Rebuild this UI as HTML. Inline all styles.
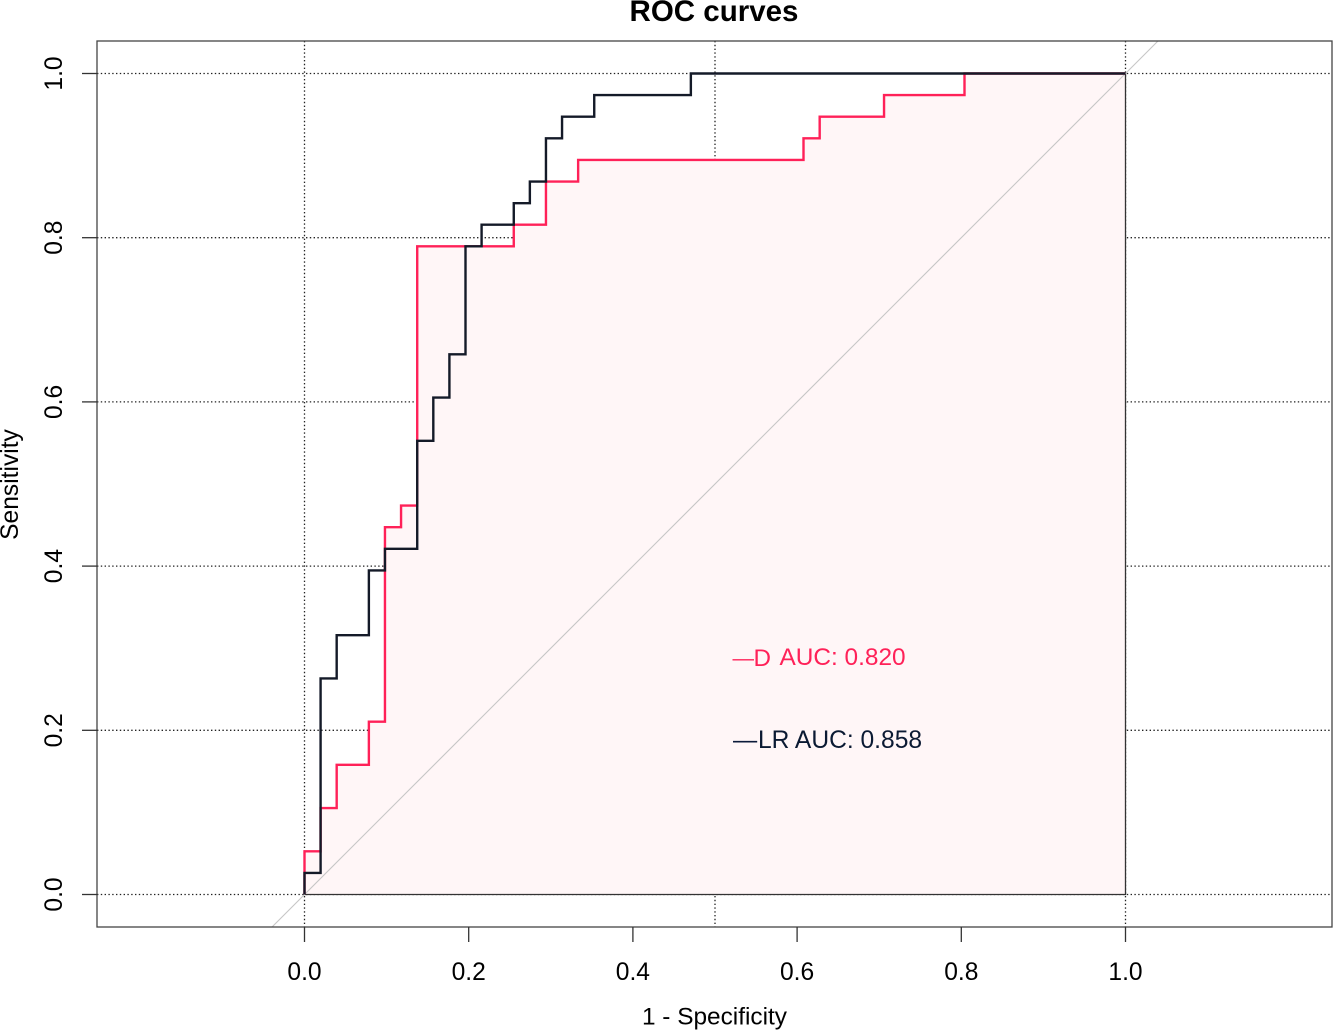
<!DOCTYPE html>
<html>
<head>
<meta charset="utf-8">
<title>ROC curves</title>
<style>
html,body{margin:0;padding:0;background:#fff;width:1333px;height:1030px;overflow:hidden}
svg{display:block;overflow:hidden}
text{font-family:"Liberation Sans",Arial,sans-serif;fill:#000}
</style>
</head>
<body>
<svg id="chart" xmlns="http://www.w3.org/2000/svg" width="1333" height="1030" viewBox="0 0 1333 1030">
  <defs><clipPath id="plot-clip"><rect x="97" y="41" width="1235" height="886"/></clipPath></defs>
  <text x="714" y="21" text-anchor="middle" font-size="29.5" font-weight="bold">ROC curves</text>
  <text x="714.5" y="1024.5" text-anchor="middle" font-size="24.4">1 - Specificity</text>
  <text transform="translate(18,484.5) rotate(-90)" text-anchor="middle" font-size="24.6">Sensitivity</text>
  <g id="grid"></g>
  <g id="fill"></g>
  <g id="diag" clip-path="url(#plot-clip)"></g>
  <g id="curves"></g>
  <g id="axes"></g>
  <g>
    <text x="732.5" y="665" font-size="21.5" style="fill:#ff2158">—</text>
    <text x="753.5" y="666" font-size="24.2" style="fill:#ff2158">D</text>
    <text x="779.5" y="665" font-size="24.4" style="fill:#ff2158">AUC: 0.820</text>
    <text x="733" y="748" font-size="24.2" style="fill:#0b1a3a">—</text>
    <text x="758" y="748" font-size="24.6" style="fill:#0b1a33">LR AUC: 0.858</text>
  </g>
</svg>
<script>
const xTicks = [0, 0.2, 0.4, 0.6, 0.8, 1];
const yTicks = [0, 0.2, 0.4, 0.6, 0.8, 1];
const tickLabels = ['0.0', '0.2', '0.4', '0.6', '0.8', '1.0'];
const vGrid = [0, 0.5, 1];
const hGrid = [0, 0.2, 0.4, 0.6, 0.8, 1];
const chanceLine = [-0.04, 1.04];
const dFpr = [0, 0, 0.0196, 0.0196, 0.0392, 0.0392, 0.0784, 0.0784, 0.098, 0.098, 0.1176, 0.1176, 0.1373, 0.1373, 0.2549, 0.2549, 0.2941, 0.2941, 0.3333, 0.3333, 0.6078, 0.6078, 0.6275, 0.6275, 0.7059, 0.7059, 0.8039, 0.8039, 1];
const dTpr = [0, 0.0526, 0.0526, 0.1053, 0.1053, 0.1579, 0.1579, 0.2105, 0.2105, 0.4474, 0.4474, 0.4737, 0.4737, 0.7895, 0.7895, 0.8158, 0.8158, 0.8684, 0.8684, 0.8947, 0.8947, 0.9211, 0.9211, 0.9474, 0.9474, 0.9737, 0.9737, 1, 1];
const lrFpr = [0, 0, 0.0196, 0.0196, 0.0392, 0.0392, 0.0784, 0.0784, 0.098, 0.098, 0.1373, 0.1373, 0.1569, 0.1569, 0.1765, 0.1765, 0.1961, 0.1961, 0.2157, 0.2157, 0.2549, 0.2549, 0.2745, 0.2745, 0.2941, 0.2941, 0.3137, 0.3137, 0.3529, 0.3529, 0.4706, 0.4706, 1];
const lrTpr = [0, 0.0263, 0.0263, 0.2632, 0.2632, 0.3158, 0.3158, 0.3947, 0.3947, 0.4211, 0.4211, 0.5526, 0.5526, 0.6053, 0.6053, 0.6579, 0.6579, 0.7895, 0.7895, 0.8158, 0.8158, 0.8421, 0.8421, 0.8684, 0.8684, 0.9211, 0.9211, 0.9474, 0.9474, 0.9737, 0.9737, 1, 1];

const NS = 'http://www.w3.org/2000/svg';
const box = { left: 97, right: 1332, top: 41, bottom: 927 };
function sx(v) { return 304.5 + 821 * v; }
function sy(v) { return 894.5 - 821 * v; }
function mk(parent, tag, attrs) {
  const el = document.createElementNS(NS, tag);
  for (const k in attrs) el.setAttribute(k, attrs[k]);
  parent.appendChild(el);
  return el;
}
function pts(xs, ys) {
  return xs.map((x, i) => sx(x).toFixed(2) + ',' + sy(ys[i]).toFixed(2)).join(' ');
}

const grid = document.getElementById('grid');
vGrid.forEach(v => {
  const el = mk(grid, 'line', { x1: sx(v), x2: sx(v), y1: box.top, y2: box.bottom, stroke: '#222', 'stroke-width': 1.3, 'stroke-dasharray': '1.4 2.4' });
  
  
});
hGrid.forEach(v => {
  const el = mk(grid, 'line', { x1: box.left, x2: box.right, y1: sy(v), y2: sy(v), stroke: '#222', 'stroke-width': 1.3, 'stroke-dasharray': '1.4 2.4' });
  
  
});

const fillGroup = document.getElementById('fill');
const poly = mk(fillGroup, 'polygon', { points: pts(dFpr.concat([1, 0]), dTpr.concat([0, 0])), fill: '#fff6f7', stroke: '#333', 'stroke-width': 1.3 });



const diag = mk(document.getElementById('diag'), 'line', { x1: sx(chanceLine[0]), y1: sy(chanceLine[0]), x2: sx(chanceLine[1]), y2: sy(chanceLine[1]), stroke: '#c6c6c6', 'stroke-width': 1.1 });



const axes = document.getElementById('axes');
const frame = mk(axes, 'rect', { x: box.left, y: box.top, width: box.right - box.left, height: box.bottom - box.top, fill: 'none', stroke: '#444', 'stroke-width': 1.3 });


xTicks.forEach((v, i) => {
  const t = mk(axes, 'line', { x1: sx(v), x2: sx(v), y1: box.bottom, y2: 942, stroke: '#333', 'stroke-width': 1.3 });
  
  
  const l = mk(axes, 'text', { x: sx(v), y: 980, 'text-anchor': 'middle', 'font-size': 24.6 });
  l.textContent = tickLabels[i];
  
  
});
yTicks.forEach((v, i) => {
  const t = mk(axes, 'line', { x1: 82, x2: box.left, y1: sy(v), y2: sy(v), stroke: '#333', 'stroke-width': 1.3 });
  
  
  const l = mk(axes, 'text', { transform: 'translate(62,' + sy(v) + ') rotate(-90)', 'text-anchor': 'middle', 'font-size': 24.6 });
  l.textContent = tickLabels[i];
  
  
});

const curves = document.getElementById('curves');
const dLine = mk(curves, 'polyline', { points: pts(dFpr, dTpr), fill: 'none', stroke: '#ff2158', 'stroke-width': 2.4, 'stroke-linejoin': 'miter' });


const lrLine = mk(curves, 'polyline', { points: pts(lrFpr, lrTpr), fill: 'none', stroke: '#141a28', 'stroke-width': 2.4, 'stroke-linejoin': 'miter' });


</script>
</body>
</html>
